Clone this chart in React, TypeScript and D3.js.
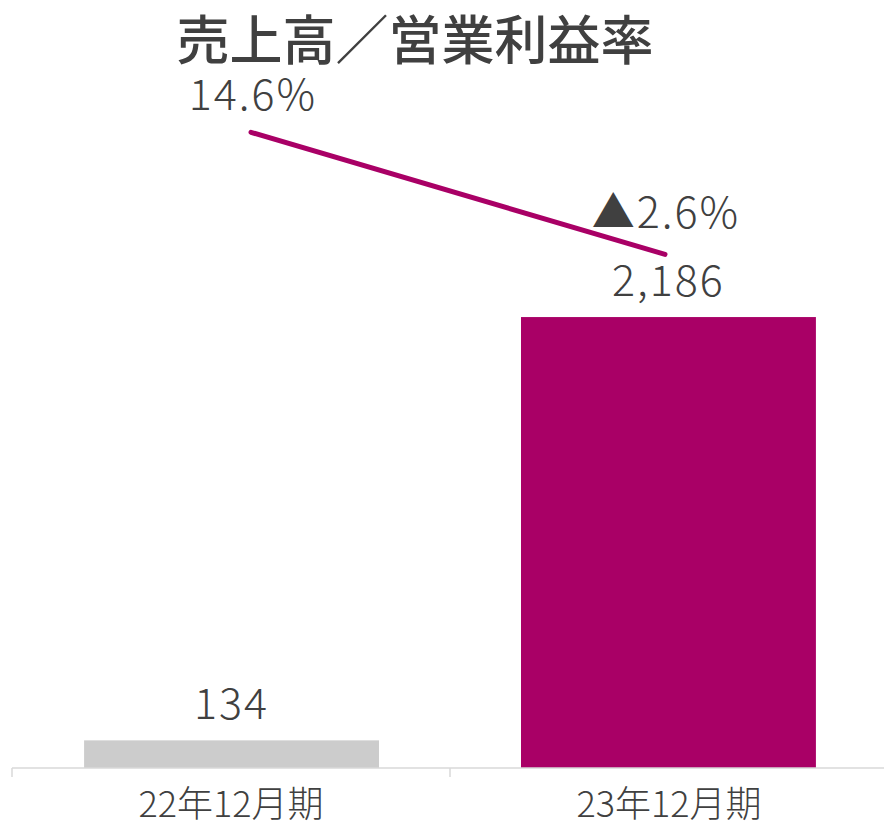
import React from "react";
import * as d3 from "d3";

const categories = ["22年12月期", "23年12月期"];
const sales = [134, 2186];
const salesLabels = ["134", "2,186"];
const margins = [14.6, -2.6];
const marginLabels = ["14.6%", "▲2.6%"];
const barColors = ["#CCCCCC", "#A90066"];

const W = 884;
const H = 824;
const baseY = 768;
const textColor = "#404040";
const font = "'Noto Sans CJK JP', 'Noto Sans', sans-serif";

export default function App() {
  const x = d3.scaleBand<string>().domain(categories).range([12, 888]).paddingInner(0.325).paddingOuter(0.165);
  const xBand = d3.scaleBand<string>().domain(categories).range([12, 888]);
  // line sits slightly inside the bar centres
  const xLine = d3.scalePoint<string>().domain(categories).range([251, 665]);
  const y = d3.scaleLinear().domain([0, 3500]).range([baseY, 46]);
  const y2 = d3.scaleLinear().domain([-75, 20]).range([baseY, 94]);

  const line = d3
    .line<number>()
    .x((_, i) => xLine(categories[i]) as number)
    .y((d) => y2(d));

  const bw = x.bandwidth();

  return (
    <svg
      width={W}
      height={H}
      style={{ position: "absolute", left: 0, top: 0, display: "block", background: "#fff" }}
      fontFamily={font}
    >
      <text x={415} y={60} textAnchor="middle" fontSize={53} fontWeight={500} fill={textColor}>
        売上高／営業利益率
      </text>

      {categories.map((c, i) => (
        <g key={c}>
          <rect x={x(c)} y={y(sales[i])} width={bw} height={baseY - y(sales[i])} fill={barColors[i]} />
          <text
            x={(x(c) as number) + bw / 2}
            y={y(sales[i]) - 21}
            textAnchor="middle"
            fontSize={43}
            fontWeight={300}
            letterSpacing={2}
            fill={textColor}
          >
            {salesLabels[i]}
          </text>
          <text
            x={(xBand(c) as number) + xBand.bandwidth() / 2}
            y={817}
            textAnchor="middle"
            fontSize={36}
            fontWeight={300}
            fill={textColor}
          >
            {c}
          </text>
        </g>
      ))}

      {/* axis */}
      <line x1={12} x2={W} y1={baseY} y2={baseY} stroke="#D9D9D9" strokeWidth={1.5} />
      {categories.map((c) => (
        <line
          key={c}
          x1={xBand(c)}
          x2={xBand(c)}
          y1={baseY}
          y2={777}
          stroke="#D9D9D9"
          strokeWidth={1.5}
        />
      ))}

      <path d={line(margins) as string} fill="none" stroke="#A90066" strokeWidth={5} strokeLinecap="round" />

      {margins.map((m, i) => (
        <text
          key={i}
          x={(xLine(categories[i]) as number) + (i === 0 ? 2 : 1)}
          y={y2(m) - (i === 0 ? 22 : 26)}
          textAnchor="middle"
          fontSize={43}
          fontWeight={300}
          letterSpacing={2}
          fill={textColor}
        >
          {marginLabels[i]}
        </text>
      ))}
    </svg>
  );
}
